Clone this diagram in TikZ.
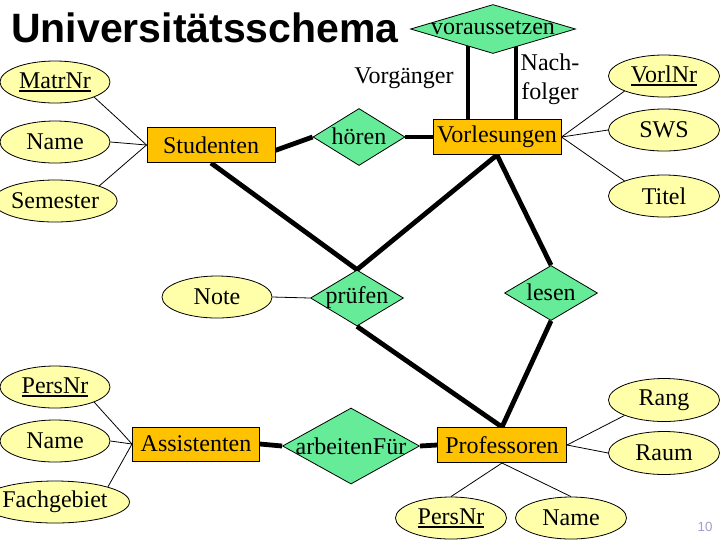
\documentclass[tikz,border=0pt]{standalone}
\usepackage{fontspec}
\setmainfont{Liberation Serif}
\newfontfamily\titlefont{Liberation Sans}
\usetikzlibrary{shapes.geometric,backgrounds}
\definecolor{attrfill}{RGB}{255,255,170}
\definecolor{entfill}{RGB}{255,194,0}
\definecolor{relfill}{RGB}{102,236,152}
\definecolor{pagenum}{RGB}{165,155,205}
\def\upx{0.75pt}
\newcommand\keyul[1]{\setbox0\hbox{#1}\rlap{\vrule width\wd0 height -1.1pt depth 2.7pt}\box0}
\begin{document}
\begin{tikzpicture}[x=0.75pt,y=-0.75pt,
  txt/.style={font=\fontsize{18pt}{22pt}\selectfont, inner sep=0pt},
  attr/.style={ellipse, draw=black, line width=0.6pt, fill=attrfill, minimum width=110*\upx, minimum height=42*\upx, inner sep=0pt, txt},
  ent/.style={rectangle, draw=black, line width=0.75pt, fill=entfill, minimum width=128*\upx, minimum height=35*\upx, inner sep=0pt, txt},
  rel/.style={diamond, draw=black, line width=0.6pt, fill=relfill, inner sep=0pt},
  thin link/.style={line width=0.6pt},
  thick link/.style={line width=3.6pt},
]
\useasboundingbox (0,0) rectangle (720,540);

% title
\node[anchor=base west, inner sep=0pt, font=\titlefont\bfseries\fontsize{30.75pt}{34pt}\selectfont] (title) at (11,42) {Universitätsschema};

% entities
\node[ent] (stud) at (211,145) {Studenten};
\node[ent] (vorl) at (497,137) {Vorlesungen};
\node[ent, minimum width=129*\upx] (prof) at (502,445) {Professoren};
\node[ent, minimum width=127*\upx, minimum height=34*\upx] (asst) at (196,444) {Assistenten};

% relationships
\node[rel, minimum width=165*\upx, minimum height=49*\upx] (vs) at (493,29) {};
\node[txt] (vsT) at (493,28) {voraussetzen};
\node[rel, minimum width=92*\upx, minimum height=57*\upx] (hoeren) at (359,137) {};
\node[txt] (hoerenT) at (359,136) {hören};
\node[rel, minimum width=93*\upx, minimum height=56*\upx] (pruef) at (357,298) {};
\node[txt] (pruefT) at (357,298) {prüfen};
\node[rel, minimum width=93*\upx, minimum height=55*\upx] (lesen) at (551,293) {};
\node[txt] (lesenT) at (551,292) {lesen};
\node[rel, minimum width=137*\upx, minimum height=76*\upx] (af) at (351,446) {};
\node[txt] (afT) at (351,446) {arbeitenFür};

% attributes
\node[attr] (matr) at (55,82) {\keyul{MatrNr}};
\node[attr] (sname) at (55,142) {Name};
\node[attr] (sem) at (55,201) {Semester};
\node[attr, minimum width=111*\upx] (vnr) at (664,76) {\keyul{VorlNr}};
\node[attr, minimum width=111*\upx] (sws) at (664,130) {SWS};
\node[attr, minimum width=111*\upx] (titel) at (664,196) {Titel};
\node[attr] (note) at (217,297) {Note};
\node[attr] (pnrA) at (55,387) {\keyul{PersNr}};
\node[attr] (anameA) at (55,441) {Name};
\node[attr] (fach) at (55,502) {Fachgebiet};
\node[attr, minimum width=111*\upx, minimum height=43*\upx] (rang) at (664,400) {Rang};
\node[attr, minimum width=111*\upx, minimum height=43*\upx] (raum) at (664,453) {Raum};
\node[attr, minimum width=111*\upx] (pnrP) at (451,518) {\keyul{PersNr}};
\node[attr, minimum width=111*\upx] (pnameP) at (571,518) {Name};

% role labels
\node[txt] (vgT) at (404,78) {Vorgänger};
\node[txt, align=center, font=\fontsize{18pt}{21.75pt}\selectfont] (nfT) at (550,79) {Nach-\\folger};

% page number
\node[font=\titlefont\fontsize{10pt}{12pt}\selectfont, text=pagenum, inner sep=0pt] (pg) at (705,527) {10};

\coordinate (vgTop) at (468,29);
\coordinate (nfTop) at (516,29);

\begin{pgfonlayer}{background}
% thin attribute links
\draw[thin link] (stud.west) -- (matr.south east);
\draw[thin link] (stud.west) -- (sname.east);
\draw[thin link] (stud.west) -- (sem.north east);
\draw[thin link] (vorl.east) -- (vnr.south west);
\draw[thin link] (vorl.east) -- (sws.west);
\draw[thin link] (vorl.east) -- (titel.north west);
\draw[thin link] (note.east) -- (pruef.west);
\draw[thin link] (asst.west) -- (pnrA.south east);
\draw[thin link] (asst.west) -- (anameA.east);
\draw[thin link] (asst.west) -- (fach.north east);
\draw[thin link] (prof.east) -- (rang.south west);
\draw[thin link] (prof.east) -- (raum.west);
\draw[thin link] (prof.south) -- (pnrP.north);
\draw[thin link] (prof.south) -- (pnameP.north);
% thick relationship links
\draw[thick link] (vgTop) -- (vgTop |- vorl.north);
\draw[thick link] (nfTop) -- (nfTop |- vorl.north);
\draw[thick link] ([yshift=-4pt]stud.east) -- (hoeren.west);
\draw[thick link] (hoeren.east) -- (vorl.west);
\draw[thick link] (stud.south) -- (pruef.north);
\draw[thick link] (vorl.south) -- (pruef.north);
\draw[thick link] (vorl.south) -- (lesen.north);
\draw[thick link] (pruef.south) -- (prof.north);
\draw[thick link] (lesen.south) -- (prof.north);
\draw[thick link] (asst.east) -- (af.west);
\draw[thick link] (af.east) -- (prof.west);
\end{pgfonlayer}
\end{tikzpicture}
\end{document}
